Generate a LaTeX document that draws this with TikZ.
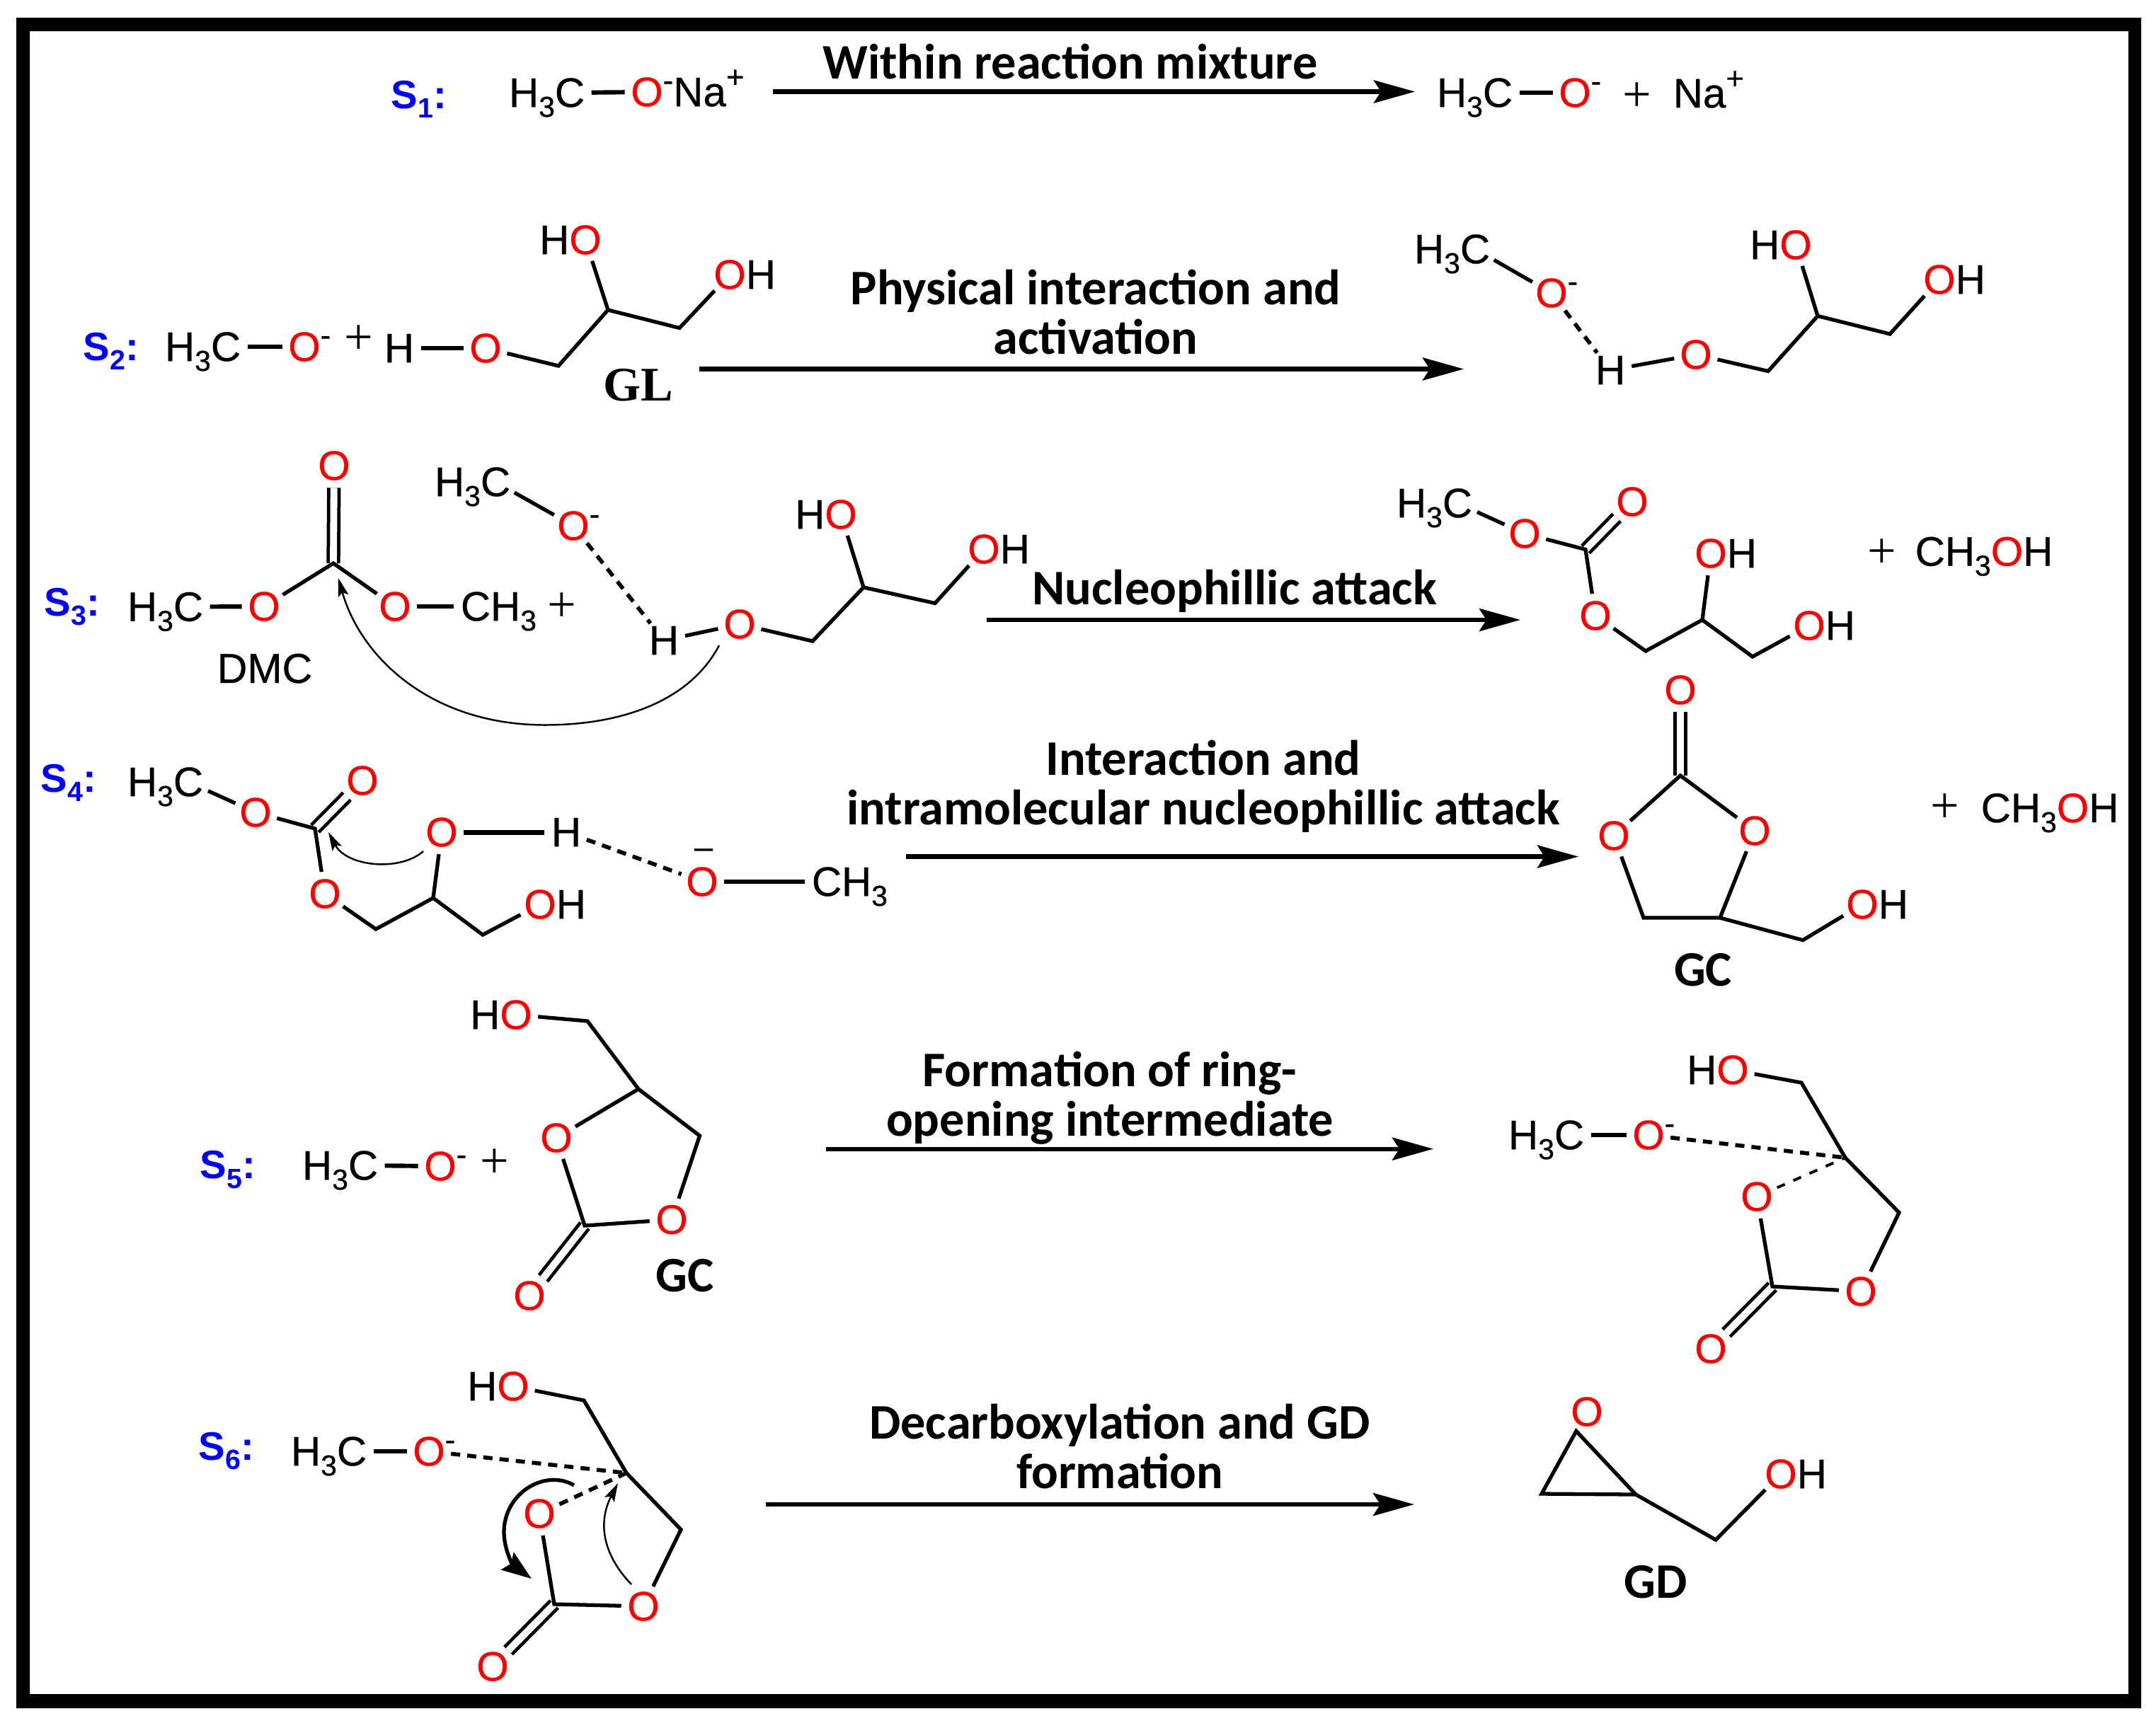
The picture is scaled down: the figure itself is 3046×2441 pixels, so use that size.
\documentclass[tikz,border=0pt]{standalone}
\usepackage{fontspec}
\usepackage{graphicx}
\usetikzlibrary{arrows.meta}
\setmainfont{Liberation Sans}
\newfontfamily\chemfam{Liberation Sans}[FakeBold=0.5]
\newfontfamily\carl{Carlito}
\newfontfamily\tim{Liberation Serif}
\definecolor{oxred}{RGB}{255,0,0}
\definecolor{stepblue}{RGB}{0,0,255}
\newcommand{\chemf}{\chemfam\fontsize{16.6}{19}\selectfont}
\newcommand{\labf}{\carl\bfseries\fontsize{20}{19.9}\selectfont}
\newcommand{\stepf}{\bfseries\fontsize{16}{18}\selectfont}
\newcommand{\plusf}{\tim\fontsize{20.5}{22}\selectfont}
\newcommand{\Ox}{\textcolor{oxred}{O}}
\newcommand{\lhang}[1]{\smash{\llap{#1}}}
\newcommand{\rhang}[1]{\smash{\rlap{#1}}}
\newcommand{\sbs}[1]{\raisebox{-.24em}{\scalebox{.7}{#1}}}
\newcommand{\supm}{\raisebox{.37em}{\scalebox{.75}{-}}}
\newcommand{\supp}{\raisebox{.45em}{\scalebox{.75}{+}}}
\tikzset{
  atom/.style={circle,inner sep=0pt,minimum size=.6cm,font=\chemf},
  bond/.style={line width=1.5pt,line join=miter},
  hbond/.style={line width=1.75pt},
  dbl/.style={line width=1.35pt,double,double distance=2.8pt},
  hb/.style={line width=1.6pt,dash pattern=on .13cm off .10cm},
  rxn/.style={line width=1.75pt,-{Stealth[length=.58cm,width=.32cm,inset=.1cm]}},
  curl/.style={line width=.7pt,-{Stealth[length=.26cm,width=.15cm,inset=.05cm]}},
  lab/.style={inner sep=0pt,anchor=base,font=\labf,align=center,yshift=-.025cm},
  stepn/.style={inner sep=0pt,anchor=base west,font=\stepf,text=stepblue},
  txt/.style={inner sep=0pt,anchor=base west,font=\chemf},
  plus/.style={inner sep=0pt,font=\plusf},
  nm/.style={inner sep=0pt,anchor=base,yshift=-.02cm,font=\carl\bfseries\fontsize{20}{22}\selectfont}
}
\begin{document}
\begin{tikzpicture}[x=.01cm,y=-.01cm]
\useasboundingbox (0,0) rectangle (3046,2441);
\fill[white] (0,0) rectangle (3046,2441);
\fill[black,even odd rule] (23,25) rectangle (3025,2414) (42,44) rectangle (3007,2394);

% ---------- S1
\node[stepn] (s1) at (552,153) {S\sbs{1}:};
\node[atom] (a1c) at (805,131) {\lhang{H\sbs{3}}C};
\node[atom] (a1o) at (914,130) {\Ox\rhang{\supm Na\supp}};
\draw[hbond] (a1c) -- (a1o);
\coordinate (r1a) at (1092,129.5); \coordinate (r1b) at (1999,129.5);
\draw[rxn] (r1a) -- (r1b);
\node[lab] (l1) at (1512,108.6) {Within reaction mixture};
\node[atom] (b1c) at (2116,131) {\lhang{H\sbs{3}}C};
\node[atom] (b1o) at (2225,131) {\Ox\rhang{\supm}};
\draw[hbond] (b1c) -- (b1o);
\node[plus] (b1p) at (2313,137) {+};
\node[txt] (b1n) at (2363,152) {Na\supp};

% ---------- S2
\node[stepn] (s2) at (117,509) {S\sbs{2}:};
\node[atom] (a2c) at (319,490) {\lhang{H\sbs{3}}C};
\node[atom] (a2o) at (430,490) {\Ox\rhang{\supm}};
\draw[hbond] (a2c) -- (a2o);
\node[plus] (a2p) at (507,480) {+};
\node[atom] (a2h) at (564,492) {H};
\node[atom] (a2o2) at (686,492) {\Ox};
\draw[hbond] (a2h) -- (a2o2);
\node[atom] (a2o3) at (827,339) {\lhang{H}\Ox};
\node[atom] (a2o4) at (1031,388) {\Ox\rhang{H}};
\coordinate (a2v1) at (789,517); \coordinate (a2v2) at (859,438); \coordinate (a2v3) at (960,463.5);
\draw[bond] (a2o2) -- (a2v1) -- (a2v2) -- (a2v3) -- (a2o4);
\draw[bond] (a2v2) -- (a2o3);
\node[inner sep=0pt,anchor=base,font=\tim\bfseries\fontsize{19.4}{22}\selectfont] (gl) at (902,566) {GL};
\coordinate (r2a) at (988,521.5); \coordinate (r2b) at (2068,521.5);
\draw[rxn] (r2a) -- (r2b);
\node[lab] (l2) at (1548,497.5) {Physical interaction and\\activation};
\node[atom] (b2c) at (2084,352) {\lhang{H\sbs{3}}C};
\node[atom] (b2o) at (2192,414) {\Ox\rhang{\supm}};
\draw[bond] (b2c) -- (b2o);
\node[atom] (b2h) at (2275,523) {H};
\draw[hb] (b2o) -- (b2h);
\node[atom] (b2o2) at (2396,501) {\Ox};
\draw[bond] (b2h) -- (b2o2);
\node[atom] (b2o3) at (2537,346) {\lhang{H}\Ox};
\node[atom] (b2o4) at (2740,395) {\Ox\rhang{H}};
\coordinate (b2v1) at (2498,524.5); \coordinate (b2v2) at (2568,446.5); \coordinate (b2v3) at (2670,472);
\draw[bond] (b2o2) -- (b2v1) -- (b2v2) -- (b2v3) -- (b2o4);
\draw[bond] (b2v2) -- (b2o3);

% ---------- S3
\node[stepn] (s3) at (62,870) {S\sbs{3}:};
\node[atom] (a3c) at (266,857.5) {\lhang{H\sbs{3}}C};
\node[atom] (a3o1) at (373,857) {\Ox};
\node[atom] (a3ot) at (472,658) {\Ox};
\node[atom] (a3o2) at (558,857) {\Ox};
\node[atom] (a3m) at (672,857) {C\rhang{H\sbs{3}}};
\coordinate (a3v) at (471,796);
\draw[dbl] (a3v) -- (a3ot);
\draw[hbond] (a3c) -- (a3o1);
\draw[bond] (a3o1) -- (a3v) -- (a3o2);
\draw[hbond] (a3o2) -- (a3m);
\node[plus] (a3p) at (794,858) {+};
\node[inner sep=0pt,anchor=base,font=\chemfam\fontsize{16.8}{19}\selectfont] (dmc) at (374,965) {DMC};
\node[atom] (a3c2) at (700,681) {\lhang{H\sbs{3}}C};
\node[atom] (a3o3) at (810,743) {\Ox\rhang{\supm}};
\draw[bond] (a3c2) -- (a3o3);
\node[atom] (a3h) at (938,905) {H};
\draw[hb] (a3o3) -- (a3h);
\node[atom] (a3o4) at (1045,882) {\Ox};
\draw[bond] (a3h) -- (a3o4);
\node[atom] (a3o5) at (1188,727) {\lhang{H}\Ox};
\node[atom] (a3o6) at (1390,776) {\Ox\rhang{H}};
\coordinate (a3v1) at (1148,906); \coordinate (a3v2) at (1220,830); \coordinate (a3v3) at (1321,852.5);
\draw[bond] (a3o4) -- (a3v1) -- (a3v2) -- (a3v3) -- (a3o6);
\draw[bond] (a3v2) -- (a3o5);
\coordinate (a3s) at (1016,912); \coordinate (a3b) at (770,1024.5); \coordinate (a3e) at (478,817);
\draw[curl] (a3s) .. controls (975,990) and (880,1024.5) .. (a3b) .. controls (610,1024.5) and (510,930) .. (a3e);
\coordinate (r3a) at (1394,876); \coordinate (r3b) at (2148,876);
\draw[rxn] (r3a) -- (r3b);
\node[lab] (l3) at (1744,851.5) {Nucleophillic attack};
\node[atom] (b3c) at (2059,711) {\lhang{H\sbs{3}}C};
\node[atom] (b3o1) at (2154,754) {\Ox};
\node[atom] (b3ot) at (2306,709) {\Ox};
\node[atom] (b3o2) at (2254,870) {\Ox};
\node[atom] (b3o3) at (2417,782) {\Ox\rhang{H}};
\node[atom] (b3o4) at (2556,884) {\Ox\rhang{H}};
\coordinate (b3v) at (2240,776.5);
\coordinate (b3v1) at (2325,920); \coordinate (b3v2) at (2405,876); \coordinate (b3v3) at (2476,928);
\draw[dbl] (b3v) -- (b3ot);
\draw[bond] (b3c) -- (b3o1) -- (b3v) -- (b3o2) -- (b3v1) -- (b3v2) -- (b3v3) -- (b3o4);
\draw[bond] (b3v2) -- (b3o3);
\node[plus] (b3p) at (2659,782) {+};
\node[txt] (b3m) at (2705,799.5) {CH\sbs{3}\Ox H};

% ---------- S4
\node[stepn] (s4) at (57,1119) {S\sbs{4}:};
\node[atom] (a4c) at (266,1105) {\lhang{H\sbs{3}}C};
\node[atom] (a4o1) at (361,1148) {\Ox};
\node[atom] (a4ot) at (512,1103) {\Ox};
\node[atom] (a4o2) at (459,1263) {\Ox};
\node[atom] (a4o3) at (763,1278) {\Ox\rhang{H}};
\node[atom] (a4o4) at (624,1176) {\Ox};
\coordinate (a4v) at (445,1171);
\coordinate (a4v1) at (531,1313); \coordinate (a4v2) at (612,1269); \coordinate (a4v3) at (682,1321);
\draw[dbl] (a4v) -- (a4ot);
\draw[bond] (a4c) -- (a4o1) -- (a4v) -- (a4o2) -- (a4v1) -- (a4v2) -- (a4v3) -- (a4o3);
\draw[bond] (a4v2) -- (a4o4);
\node[atom] (a4h) at (800,1176) {H};
\draw[line width=2pt] (a4o4) -- (a4h);
\node[atom] (a4o5) at (992,1246) {\Ox};
\draw[hb] (a4h) -- (a4o5);
\node[inner sep=0pt,font=\chemf] (a4mi) at (994,1206) {\scalebox{.8}{\textendash}};
\node[atom] (a4m) at (1168,1246) {C\rhang{H\sbs{3}}};
\draw[hbond] (a4o5) -- (a4m);
\coordinate (a4s) at (598,1203); \coordinate (a4e) at (464,1176);
\draw[curl] (a4s) .. controls (565,1232) and (490,1225) .. (a4e);
\coordinate (r4a) at (1280,1210.5); \coordinate (r4b) at (2230,1210.5);
\draw[rxn] (r4a) -- (r4b);
\node[lab] (l4) at (1700,1163) {Interaction and\\intramolecular nucleophillic attack};
\node[atom] (b4ot) at (2374,975) {\Ox};
\node[atom] (b4o1) at (2280,1181) {\Ox};
\node[atom] (b4o2) at (2479,1174) {\Ox};
\node[atom] (b4o3) at (2631,1278) {\Ox\rhang{H}};
\coordinate (b4v) at (2374,1096);
\coordinate (b4v1) at (2322,1297); \coordinate (b4v2) at (2430,1297); \coordinate (b4v3) at (2547,1328.6);
\draw[dbl] (b4v) -- (b4ot);
\draw[bond] (b4o1) -- (b4v) -- (b4o2);
\draw[bond] (b4o1) -- (b4v1) -- (b4v2) -- (b4o2);
\draw[bond] (b4v2) -- (b4v3) -- (b4o3);
\node[nm] (gc1) at (2406,1391) {GC};
\node[plus] (b4p) at (2748,1142) {+};
\node[txt] (b4m) at (2798,1162) {CH\sbs{3}\Ox H};

% ---------- S5
\node[stepn] (s5) at (282,1665.5) {S\sbs{5}:};
\node[atom] (a5c) at (513,1647) {\lhang{H\sbs{3}}C};
\node[atom] (a5o) at (622,1648) {\Ox\rhang{\supm}};
\draw[hbond] (a5c) -- (a5o);
\node[plus] (a5p) at (699,1644) {+};
\node[atom] (a5o1) at (729,1434) {\lhang{H}\Ox};
\node[atom] (a5o2) at (786,1608) {\Ox};
\node[atom] (a5o3) at (949,1723.5) {\Ox};
\node[atom] (a5o4) at (748,1831) {\Ox};
\coordinate (a5v1) at (830,1443); \coordinate (a5v2) at (902,1539);
\coordinate (a5v3) at (988.5,1605); \coordinate (a5v4) at (826,1732);
\draw[dbl] (a5v4) -- (a5o4);
\draw[bond] (a5o1) -- (a5v1) -- (a5v2) -- (a5o2) -- (a5v4) -- (a5o3) -- (a5v3) -- (a5v2);
\node[nm] (gc2) at (968,1823) {GC};
\coordinate (r5a) at (1167,1623.6); \coordinate (r5b) at (2025,1623.6);
\draw[rxn] (r5a) -- (r5b);
\node[lab] (l5) at (1568,1603) {Formation of ring-\\opening intermediate};
\node[atom] (b5c) at (2217,1604) {\lhang{H\sbs{3}}C};
\node[atom] (b5o) at (2329,1604) {\Ox\rhang{\supm}};
\draw[hbond] (b5c) -- (b5o);
\node[atom] (b5o1) at (2448,1512) {\lhang{H}\Ox};
\node[atom] (b5o2) at (2482,1691) {\Ox};
\node[atom] (b5o3) at (2629,1825) {\Ox};
\node[atom] (b5o4) at (2417,1906) {\Ox};
\coordinate (b5v1) at (2545,1530); \coordinate (b5v2) at (2607,1636);
\coordinate (b5v3) at (2683,1713.6); \coordinate (b5v4) at (2504,1818);
\draw[dbl] (b5v4) -- (b5o4);
\draw[bond] (b5o1) -- (b5v1) -- (b5v2) -- (b5v3) -- (b5o3) -- (b5v4) -- (b5o2);
\draw[hb] (b5o) -- (b5v2);
\draw[line width=1.1pt,dash pattern=on .12cm off .13cm] (b5o2) -- (b5v2);

% ---------- S6
\node[stepn] (s6) at (280,2063) {S\sbs{6}:};
\node[atom] (a6c) at (497,2051) {\lhang{H\sbs{3}}C};
\node[atom] (a6o) at (606,2051) {\Ox\rhang{\supm}};
\draw[hbond] (a6c) -- (a6o);
\node[atom] (a6o1) at (725,1959) {\lhang{H}\Ox};
\node[atom] (a6o2) at (762,2139) {\Ox};
\node[atom] (a6o3) at (909,2270) {\Ox};
\node[atom] (a6o4) at (696,2355) {\Ox};
\coordinate (a6v1) at (825,1979); \coordinate (a6v2) at (885,2081.6);
\coordinate (a6v3) at (962,2161.5); \coordinate (a6v4) at (783,2267);
\draw[dbl] (a6v4) -- (a6o4);
\draw[bond] (a6o1) -- (a6v1) -- (a6v2) -- (a6v3) -- (a6o3) -- (a6v4) -- (a6o2);
\draw[hb] (a6o) -- (a6v2);
\draw[hb] (a6o2) -- (a6v2);
\coordinate (a6s) at (811,2099); \coordinate (a6e) at (751,2231);
\draw[line width=1.5pt,-{Stealth[length=.42cm,width=.3cm,inset=.06cm]}] (a6s) .. controls (770,2075) and (712,2110) .. (712,2165) .. controls (712,2190) and (725,2212) .. (a6e);
\coordinate (a6t) at (892,2239); \coordinate (a6u) at (873,2096);
\draw[curl] (a6t) .. controls (850,2195) and (845,2150) .. (a6u);
\coordinate (r6a) at (1082,2126); \coordinate (r6b) at (1998,2126);
\draw[rxn] (r6a) -- (r6b);
\node[lab] (l6) at (1582,2100.6) {Decarboxylation and GD\\formation};
\node[atom] (b6o) at (2242,1995) {\Ox};
\node[atom] (b6o2) at (2516,2083) {\Ox\rhang{H}};
\coordinate (b6v1) at (2178,2111); \coordinate (b6v2) at (2311,2112); \coordinate (b6v3) at (2424,2176);
\draw[bond] (b6o) -- (b6v1) -- (b6v2) -- cycle;
\draw[bond] (b6v2) -- (b6v3) -- (b6o2);
\node[nm] (gd) at (2339,2256) {GD};
\end{tikzpicture}
\end{document}
